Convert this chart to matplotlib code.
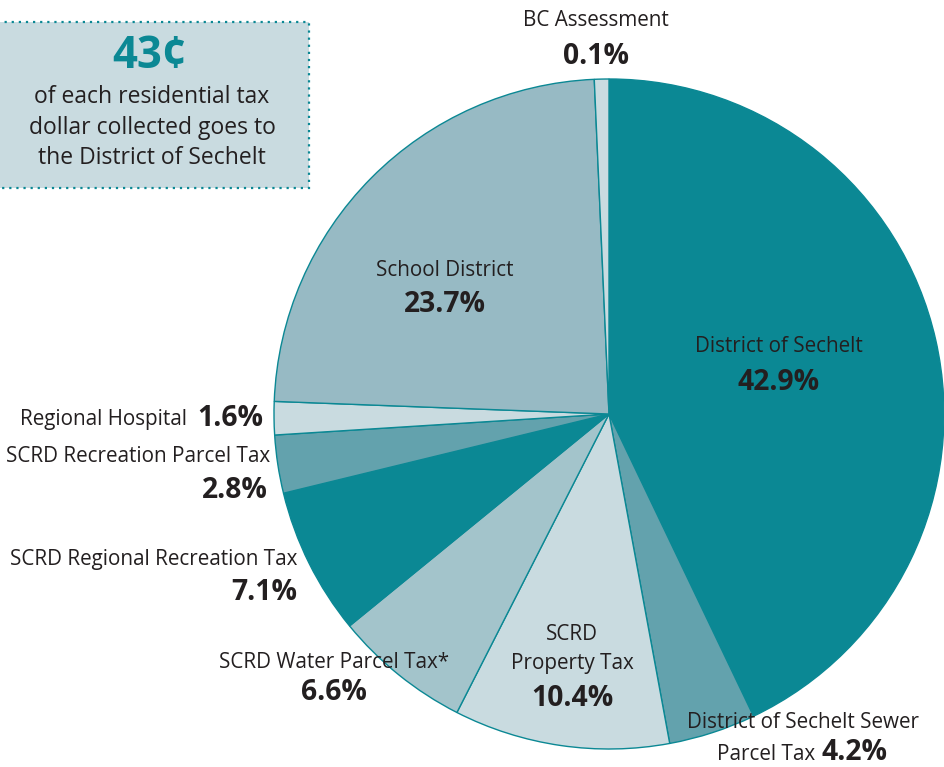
import matplotlib
matplotlib.use("Agg")
import matplotlib.pyplot as plt
from matplotlib.patches import Rectangle

plt.rcParams['font.family'] = ['Open Sans', 'DejaVu Sans']

# Data (clockwise from top)
categories = ["District of Sechelt", "District of Sechelt Sewer Parcel Tax", "SCRD Property Tax",
              "SCRD Water Parcel Tax*", "SCRD Regional Recreation Tax", "SCRD Recreation Parcel Tax",
              "Regional Hospital", "School District", "BC Assessment"]
shares = [42.9, 4.2, 10.4, 6.6, 7.1, 2.8, 1.6, 23.7, 0.7]   # drawn slice sizes
pct_labels = ["42.9%", "4.2%", "10.4%", "6.6%", "7.1%", "2.8%", "1.6%", "23.7%", "0.1%"]

DARK = "#0b8894"
MID = "#63a2ad"
SCHOOL = "#97bac4"
WATER = "#a3c4cb"
LIGHT = "#c9dbe0"
colors = [DARK, MID, LIGHT, WATER, DARK, MID, LIGHT, SCHOOL, LIGHT]
TXT = "#231f20"

W, H = 944, 767
fig = plt.figure(figsize=(W / 100, H / 100), dpi=100)
ax = fig.add_axes([0, 0, 1, 1])

def Y(y):
    return H - y

ax.pie(shares, colors=colors, startangle=90, counterclock=False,
       center=(609, Y(414)), radius=335, frame=True,
       wedgeprops=dict(edgecolor=DARK, linewidth=1.0))
ax.set_xlim(0, W)
ax.set_ylim(0, H)
ax.set_aspect('equal')
ax.axis('off')

# Info box
ax.add_patch(Rectangle((-5, Y(188)), 314, 166, facecolor=LIGHT, edgecolor=DARK,
                       linewidth=1.6, linestyle=(0, (1, 2.2)), zorder=5))
ax.text(150, Y(57), "43¢", color=DARK, fontsize=31.5, fontweight='bold', ha='center', va='center', zorder=6)
for yy, s in [(97, "of each residential tax"), (128, "dollar collected goes to"), (158, "the District of Sechelt")]:
    ax.text(152, Y(yy), s, color=TXT, fontsize=16.5, ha='center', va='center', zorder=6)

NS = 14.9
BS = 20.3

def lab(x, y, s, ha='center', bold=False, size=None):
    ax.text(x, Y(y), s, color=TXT, fontsize=size or (BS if bold else NS),
            fontweight='bold' if bold else 'normal', ha=ha, va='center', zorder=6)

lab(596, 20, categories[8])
lab(596, 57, pct_labels[8], bold=True)

lab(445, 270, categories[7])
lab(445, 305, pct_labels[7], bold=True)

lab(779, 347, categories[0])
lab(779, 383, pct_labels[0], bold=True)

lab(187, 420, categories[6], ha='right')
lab(263, 418, pct_labels[6], ha='right', bold=True)

lab(270, 457, categories[5], ha='right')
lab(268, 490, pct_labels[5], ha='right', bold=True)

lab(297, 560, categories[4], ha='right')
lab(297, 592, pct_labels[4], ha='right', bold=True)

lab(334, 662, categories[3])
lab(334, 693, pct_labels[3], bold=True)

lab(572, 634, "SCRD")
lab(572, 664, "Property Tax")
lab(572, 698, pct_labels[2], bold=True)

lab(803, 722, "District of Sechelt Sewer")
lab(815, 755, "Parcel Tax", ha='right')
lab(822, 753, pct_labels[1], ha='left', bold=True)

fig.savefig("out.png", dpi=100)
